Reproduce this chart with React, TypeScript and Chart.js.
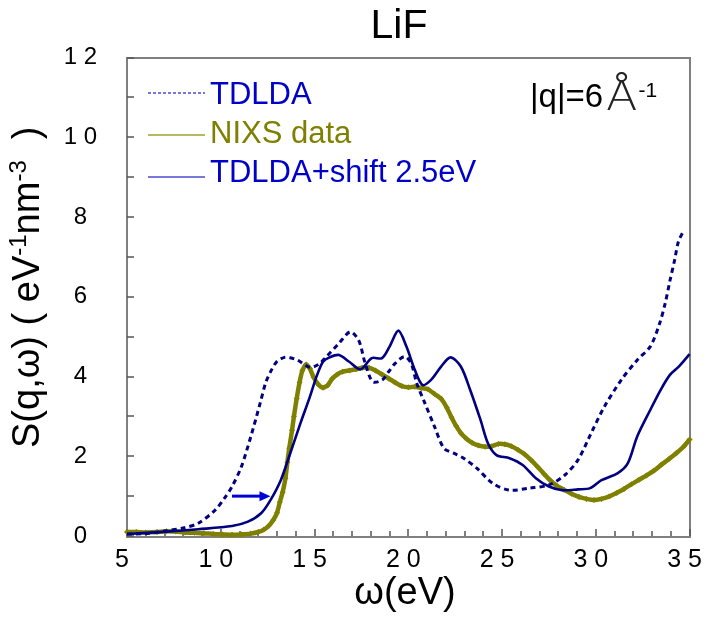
import { useEffect, useRef } from 'react';
import { Chart, registerables } from 'chart.js';

Chart.register(...registerables);

// Energy loss ω (eV) and dynamic structure factor S(q,ω) for LiF at |q| = 6 Å⁻¹
const tdldaEnergy = [5.0, 6.0, 7.1, 8.0, 8.8, 9.7, 10.2, 10.6, 11.1, 11.6, 12.1, 12.4, 12.7, 13.0, 13.4, 13.7, 14.1, 14.75, 15.2, 15.6, 16.3, 16.9, 17.35, 17.7, 18.1, 18.6, 18.95, 19.3, 19.8, 20.15, 20.45, 20.85, 21.4, 21.9, 22.45, 22.95, 23.65, 24.5, 25.4, 26.45, 27.5, 28.35, 29.05, 29.75, 30.45, 31.35, 32.2, 32.9, 33.4, 33.7, 33.95, 34.2, 34.4, 34.65];
const tdldaS = [0.05, 0.06, 0.13, 0.2, 0.32, 0.65, 0.95, 1.24, 1.74, 2.49, 3.33, 3.85, 4.16, 4.38, 4.48, 4.47, 4.41, 4.23, 4.3, 4.48, 4.83, 5.12, 4.91, 4.33, 3.87, 3.91, 4.12, 4.33, 4.5, 4.33, 3.83, 3.37, 2.74, 2.2, 2.07, 1.95, 1.7, 1.32, 1.15, 1.2, 1.28, 1.53, 1.91, 2.58, 3.24, 3.91, 4.41, 4.75, 5.33, 5.84, 6.4, 6.92, 7.38, 7.63];

const nixsEnergy = [5.0, 5.5, 6.0, 6.6, 7.1, 7.6, 8.1, 8.6, 9.1, 9.6, 10.1, 10.6, 11.1, 11.6, 12.0, 12.3, 12.55, 12.8, 13.0, 13.15, 13.3, 13.45, 13.55, 13.65, 13.8, 13.9, 14.05, 14.2, 14.35, 14.55, 14.75, 14.95, 15.2, 15.45, 15.7, 15.95, 16.2, 16.5, 16.85, 17.2, 17.55, 17.9, 18.25, 18.6, 18.95, 19.3, 19.65, 20.0, 20.35, 20.7, 21.05, 21.4, 21.75, 22.05, 22.3, 22.55, 22.8, 23.1, 23.4, 23.75, 24.1, 24.45, 24.8, 25.15, 25.5, 25.85, 26.2, 26.55, 26.9, 27.25, 27.6, 27.95, 28.3, 28.7, 29.1, 29.5, 29.9, 30.3, 30.7, 31.1, 31.5, 31.9, 32.3, 32.7, 33.1, 33.5, 33.9, 34.3, 34.7, 35.0];
const nixsS = [0.1, 0.1, 0.09, 0.1, 0.12, 0.11, 0.09, 0.08, 0.07, 0.05, 0.04, 0.03, 0.04, 0.06, 0.1, 0.16, 0.25, 0.4, 0.58, 0.85, 1.1, 1.45, 1.85, 2.2, 2.65, 3.0, 3.45, 3.85, 4.15, 4.3, 4.2, 3.98, 3.8, 3.72, 3.78, 3.95, 4.05, 4.12, 4.15, 4.18, 4.22, 4.22, 4.15, 4.05, 3.95, 3.85, 3.76, 3.73, 3.74, 3.71, 3.68, 3.56, 3.44, 3.22, 2.98, 2.76, 2.58, 2.44, 2.34, 2.27, 2.24, 2.25, 2.31, 2.3, 2.25, 2.16, 2.05, 1.9, 1.73, 1.55, 1.38, 1.25, 1.16, 1.06, 0.98, 0.93, 0.9, 0.93, 0.99, 1.08, 1.18, 1.3, 1.41, 1.52, 1.64, 1.79, 1.93, 2.08, 2.25, 2.42];

const shiftEnergy = [5.0, 7.1, 8.8, 10.6, 11.45, 12.15, 12.65, 13.2, 13.7, 14.25, 14.75, 15.1, 15.45, 15.8, 16.3, 16.85, 17.45, 18.05, 18.6, 19.0, 19.47, 19.9, 20.35, 20.75, 21.2, 21.75, 22.25, 22.8, 23.3, 23.85, 24.25, 24.7, 25.4, 26.1, 26.8, 27.5, 28.2, 29.05, 29.7, 30.3, 31.15, 31.7, 32.2, 32.9, 33.45, 33.95, 34.45, 35.0];
const shiftS = [0.05, 0.11, 0.17, 0.25, 0.36, 0.57, 0.9, 1.4, 2.07, 2.83, 3.49, 3.99, 4.37, 4.48, 4.54, 4.37, 4.18, 4.46, 4.46, 4.75, 5.15, 4.75, 4.16, 3.79, 3.91, 4.25, 4.48, 4.25, 3.66, 2.91, 2.32, 2.03, 1.95, 1.78, 1.45, 1.24, 1.15, 1.17, 1.2, 1.4, 1.57, 1.82, 2.49, 3.16, 3.66, 4.04, 4.26, 4.56];

const seriesLabels = ['TDLDA', 'NIXS data', 'TDLDA+shift 2.5eV'];

// Arrow marking the 2.5 eV shift of the TDLDA onset
const arrowFromEnergy = 10.6;
const arrowToEnergy = 12.65;
const arrowLevel = 1.0;

const xMin = 5;
const xMax = 35;
const yMin = 0;
const yMax = 12;

const SANS = '"Liberation Sans", Arial, sans-serif';
const NAVY = '#000080';
const OLIVE = '#808000';
const BLUE_TEXT = '#0000c8';

const spacedDigits = (v: number) => String(v).split('').join(' ');

const toPoints = (xs: number[], ys: number[]) => xs.map((x, i) => ({ x, y: ys[i] }));

const legendStyles = [
  { color: '#4a4ad0', dash: [3, 2], text: BLUE_TEXT },
  { color: '#a0a030', dash: [], text: OLIVE },
  { color: '#4a4ad0', dash: [], text: BLUE_TEXT },
];

const decorPlugin = {
  id: 'lifDecor',
  beforeDatasetsDraw(chart: any) {
    const { ctx, chartArea: a, scales } = chart;
    const x = scales.x;
    const y = scales.y;
    ctx.save();
    // plot frame
    ctx.strokeStyle = '#808080';
    ctx.lineWidth = 2;
    ctx.strokeRect(Math.round(a.left), Math.round(a.top), Math.round(a.right - a.left), Math.round(a.bottom - a.top));
    // inward tick marks
    ctx.strokeStyle = '#555';
    ctx.lineWidth = 1.5;
    ctx.beginPath();
    x.ticks.forEach((t: any) => {
      const px = Math.round(x.getPixelForValue(t.value));
      const len = t.value % 5 === 0 ? 7 : 5;
      ctx.moveTo(px, a.bottom);
      ctx.lineTo(px, a.bottom - len);
    });
    y.ticks.forEach((t: any) => {
      const py = Math.round(y.getPixelForValue(t.value));
      ctx.moveTo(a.left, py);
      ctx.lineTo(a.left + 7, py);
    });
    ctx.stroke();
    ctx.restore();
  },
  afterDatasetsDraw(chart: any) {
    const { ctx, scales } = chart;
    const x = scales.x;
    const y = scales.y;
    const x0 = x.getPixelForValue(arrowFromEnergy);
    const x1 = x.getPixelForValue(arrowToEnergy);
    const py = y.getPixelForValue(arrowLevel);
    ctx.save();
    ctx.strokeStyle = '#0000d8';
    ctx.fillStyle = '#0000d8';
    ctx.lineWidth = 3;
    ctx.beginPath();
    ctx.moveTo(x0, py);
    ctx.lineTo(x1 - 8, py);
    ctx.stroke();
    ctx.beginPath();
    ctx.moveTo(x1, py);
    ctx.lineTo(x1 - 11, py - 5);
    ctx.lineTo(x1 - 11, py + 5);
    ctx.closePath();
    ctx.fill();
    ctx.restore();
  },
  afterDraw(chart: any) {
    const { ctx, chartArea: a } = chart;
    ctx.save();
    ctx.fillStyle = '#000';
    ctx.textBaseline = 'alphabetic';

    // title
    ctx.font = `41px ${SANS}`;
    ctx.textAlign = 'center';
    ctx.fillText('LiF', 399, 38);

    // x-axis title
    ctx.font = `38px ${SANS}`;
    ctx.fillText('ω(eV)', 405, 604);

    // y-axis title with superscripts
    ctx.textAlign = 'left';
    ctx.save();
    ctx.translate(39, 448);
    ctx.rotate(-Math.PI / 2);
    let cx = 0;
    const part = (text: string, size: number, rise: number) => {
      ctx.font = `${size}px ${SANS}`;
      ctx.fillText(text, cx, -rise);
      cx += ctx.measureText(text).width;
    };
    part('S(q,ω) ( eV', 38, 0);
    part('-1', 24, 13);
    part('nm', 38, 0);
    part('-3', 24, 13);
    part('  )', 38, 0);
    ctx.restore();

    // momentum transfer annotation
    ctx.font = `33px ${SANS}`;
    ctx.fillText('|q|=6', 530, 107);
    const qw = ctx.measureText('|q|=6').width;
    ctx.save();
    ctx.translate(530 + qw + 3, 110);
    ctx.scale(1.15, 1);
    ctx.font = `200 40px "DejaVu Sans", "Liberation Serif", serif`;
    ctx.fillStyle = '#222';
    ctx.fillText('Å', 0, 0);
    const aw = ctx.measureText('Å').width * 1.15;
    ctx.restore();
    ctx.font = `21px ${SANS}`;
    ctx.fillText('-1', 530 + qw + 3 + aw + 1, 97);

    // legend
    const ds = chart.data.datasets;
    ds.forEach((d: any, i: number) => {
      const st = legendStyles[i];
      const lineY = 93 + i * 42;
      const baseY = 104 + i * 39;
      ctx.save();
      ctx.strokeStyle = st.color;
      ctx.lineWidth = 1.5;
      ctx.setLineDash(st.dash);
      ctx.beginPath();
      ctx.moveTo(a.left + 21, lineY);
      ctx.lineTo(a.left + 78, lineY);
      ctx.stroke();
      ctx.restore();
      ctx.font = `31px ${SANS}`;
      ctx.fillStyle = st.text;
      ctx.fillText(d.label, a.left + 83, baseY);
    });
    ctx.restore();
  },
};

export default function App() {
  const canvasRef = useRef<HTMLCanvasElement | null>(null);

  useEffect(() => {
    document.body.style.margin = '0';
    const canvas = canvasRef.current;
    if (!canvas) return;
    const chart = new Chart(canvas, {
      type: 'line',
      data: {
        datasets: [
          {
            label: seriesLabels[0],
            data: toPoints(tdldaEnergy, tdldaS),
            borderColor: NAVY,
            borderWidth: 3,
            borderDash: [5, 4],
            pointRadius: 0,
            tension: 0.3,
            fill: false,
            order: 0,
            clip: 8,
          },
          {
            label: seriesLabels[1],
            data: toPoints(nixsEnergy, nixsS),
            borderColor: OLIVE,
            backgroundColor: OLIVE,
            borderWidth: 4.5,
            pointRadius: 3,
            pointStyle: 'rectRot',
            pointBorderWidth: 0,
            pointBackgroundColor: OLIVE,
            tension: 0.2,
            fill: false,
            order: 1,
            clip: 8,
          },
          {
            label: seriesLabels[2],
            data: toPoints(shiftEnergy, shiftS),
            borderColor: NAVY,
            borderWidth: 2.6,
            pointRadius: 0,
            tension: 0.3,
            fill: false,
            order: 0,
            clip: 8,
          },
        ],
      },
      options: {
        responsive: false,
        animation: false,
        devicePixelRatio: 1,
        layout: { padding: { top: 57.5, right: 15.5, left: 0, bottom: 0 } },
        plugins: {
          legend: { display: false },
          title: { display: false },
          tooltip: { enabled: false },
        },
        scales: {
          x: {
            type: 'linear',
            min: xMin,
            max: xMax,
            grid: { display: false, drawTicks: false },
            border: { display: false },
            afterFit: (s: any) => {
              s.height = 81;
            },
            ticks: {
              stepSize: 1,
              autoSkip: false,
              maxRotation: 0,
              padding: 9,
              labelOffset: -5,
              color: '#000',
              font: { family: SANS, size: 25 },
              callback: (v: any) => (Number(v) % 5 === 0 ? spacedDigits(Number(v)) : ''),
            },
          },
          y: {
            type: 'linear',
            min: yMin,
            max: yMax,
            grid: { display: false, drawTicks: false },
            border: { display: false },
            afterFit: (s: any) => {
              s.width = 127;
            },
            ticks: {
              stepSize: 1,
              autoSkip: false,
              padding: 30,
              crossAlign: 'center',
              color: '#000',
              font: { family: SANS, size: 24 },
              callback: (v: any) => (Number(v) % 2 === 0 ? spacedDigits(Number(v)) : ''),
            },
          },
        },
      },
      plugins: [decorPlugin],
    } as any);
    return () => chart.destroy();
  }, []);

  return <canvas ref={canvasRef} width={716} height={617} style={{ display: 'block' }} />;
}
